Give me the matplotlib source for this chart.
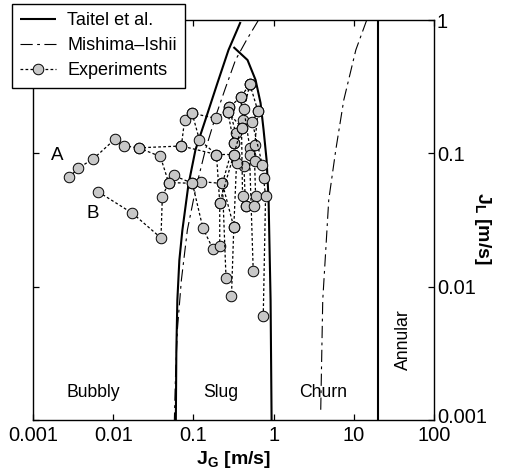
import matplotlib
matplotlib.use("Agg")
import matplotlib.pyplot as plt
from matplotlib.lines import Line2D
from matplotlib.transforms import ScaledTranslation

plt.rcParams['font.family'] = ['Liberation Sans', 'DejaVu Sans']
plt.rcParams['mathtext.fontset'] = 'custom'
plt.rcParams['mathtext.rm'] = 'Liberation Sans'
plt.rcParams['mathtext.bf'] = 'Liberation Sans:bold'

# ---------------- Regime boundaries ----------------
# Taitel et al. bubbly-slug
taitel_bs_jg = [0.387, 0.274, 0.1995, 0.141, 0.106, 0.0866, 0.0729, 0.0668, 0.0631, 0.0613, 0.0604]
taitel_bs_jl = [0.966, 0.596, 0.337, 0.178, 0.106, 0.0579, 0.0266, 0.0158, 0.00794, 0.00335, 0.001]
# Taitel et al. slug-churn
taitel_sc_jg = [0.316, 0.473, 0.596, 0.688, 0.75, 0.818, 0.866, 0.917, 0.944]
taitel_sc_jl = [0.627, 0.501, 0.355, 0.238, 0.150, 0.0891, 0.0447, 0.00794, 0.001]
# Taitel et al. churn-annular
taitel_ca_jg = [20.2, 20.2]
taitel_ca_jl = [0.001, 1.0]
# Mishima-Ishii bubbly-slug
mi_bs_jg = [0.649, 0.46, 0.335, 0.251, 0.188, 0.141, 0.106, 0.0841, 0.0708, 0.0631, 0.0596, 0.0579]
mi_bs_jl = [1.0, 0.708, 0.501, 0.309, 0.187, 0.106, 0.0531, 0.0266, 0.0112, 0.00473, 0.002, 0.001]
# Mishima-Ishii churn-annular
mi_ca_jg = [14.5, 10.6, 7.5, 5.96, 4.87, 4.47, 4.10, 3.87]
mi_ca_jl = [1.0, 0.596, 0.251, 0.106, 0.0447, 0.0188, 0.00794, 0.00119]

# ---------------- Experimental trajectories ----------------
exp_A_jg = [0.00284, 0.00365, 0.00568, 0.0104, 0.0135, 0.0207, 0.0708, 0.194, 0.319, 0.426, 0.447]
exp_A_jl = [0.0661, 0.0773, 0.0912, 0.127, 0.114, 0.110, 0.1135, 0.098, 0.098, 0.0804, 0.0403]
exp_B_jg = [0.00655, 0.0174, 0.0394, 0.041, 0.0491, 0.0568, 0.0972, 0.126, 0.230, 0.319]
exp_B_jl = [0.0513, 0.0355, 0.0232, 0.0473, 0.0604, 0.0682, 0.0596, 0.0613, 0.0594, 0.028]
exp_3_jg = [0.0207, 0.0387, 0.0491, 0.0972, 0.1315, 0.176]
exp_3_jl = [0.110, 0.0947, 0.0604, 0.0596, 0.0274, 0.0191]
exp_4_jg = [0.0708, 0.0778, 0.0964, 0.194, 0.278, 0.387, 0.506]
exp_4_jl = [0.1135, 0.179, 0.200, 0.1825, 0.221, 0.263, 0.330]
exp_5_jg = [0.0964, 0.119, 0.194, 0.213, 0.213]
exp_5_jl = [0.200, 0.126, 0.098, 0.0426, 0.0202]
exp_6_jg = [0.278, 0.337, 0.319, 0.230, 0.255]
exp_6_jl = [0.221, 0.142, 0.1196, 0.0594, 0.0117]
exp_7_jg = [0.2685, 0.319, 0.345, 0.319, 0.2985]
exp_7_jl = [0.205, 0.1196, 0.0842, 0.028, 0.00855]
exp_8_jg = [0.387, 0.418, 0.398, 0.41, 0.447]
exp_8_jl = [0.263, 0.178, 0.156, 0.0479, 0.0403]
exp_9_jg = [0.506, 0.426, 0.506, 0.501, 0.557]
exp_9_jl = [0.330, 0.214, 0.1096, 0.0972, 0.0132]
exp_10_jg = [0.506, 0.637, 0.583, 0.579, 0.596, 0.570]
exp_10_jl = [0.330, 0.208, 0.116, 0.088, 0.0479, 0.0403]
exp_11_jg = [0.637, 0.542, 0.723, 0.75, 0.794, 0.743]
exp_11_jl = [0.208, 0.171, 0.0822, 0.065, 0.0479, 0.00603]
exp_12_jg = [0.2685, 0.398, 0.319, 0.213]
exp_12_jl = [0.205, 0.156, 0.098, 0.0426]

trajectories = [
    (exp_A_jg, exp_A_jl), (exp_B_jg, exp_B_jl), (exp_3_jg, exp_3_jl),
    (exp_4_jg, exp_4_jl), (exp_5_jg, exp_5_jl), (exp_6_jg, exp_6_jl),
    (exp_7_jg, exp_7_jl), (exp_8_jg, exp_8_jl), (exp_9_jg, exp_9_jl),
    (exp_10_jg, exp_10_jl), (exp_11_jg, exp_11_jl), (exp_12_jg, exp_12_jl),
]

x_ticks = [0.001, 0.01, 0.1, 1, 10, 100]
x_tick_labels = ['0.001', '0.01', '0.1', '1', '10', '100']
y_ticks = [0.001, 0.01, 0.1, 1]
y_tick_labels = ['0.001', '0.01', '0.1', '1']

regime_labels = ['Bubbly', 'Slug', 'Churn']
regime_label_jg = [0.0056, 0.2175, 4.2]
regime_label_jl = [0.0016, 0.0016, 0.0016]

fig = plt.figure(figsize=(5.05, 4.76), dpi=100)
ax = fig.add_axes([33/505, 1-420/476, 401/505, 400/476])
ax.set_xscale('log')
ax.set_yscale('log')
ax.set_xlim(0.001, 100)
ax.set_ylim(0.001, 1)

solid_kw = dict(color='black', lw=1.5, solid_capstyle='butt')
mi_kw = dict(color='black', lw=0.8, dashes=[11, 4, 2.5, 4])

ax.plot(taitel_bs_jg, taitel_bs_jl, **solid_kw)
ax.plot(taitel_sc_jg, taitel_sc_jl, **solid_kw)
ax.plot(taitel_ca_jg, taitel_ca_jl, **solid_kw)
ax.plot(mi_bs_jg, mi_bs_jl, **mi_kw)
ax.plot(mi_ca_jg, mi_ca_jl, **mi_kw)

exp_kw = dict(color='black', lw=0.9, dashes=[2.2, 1.8], marker='o', markersize=7.6,
              markerfacecolor='#c8c8c8', markeredgecolor='black', markeredgewidth=0.7)
for jg, jl in trajectories:
    ax.plot(jg, jl, **exp_kw)

for lab, xg, yl in zip(regime_labels, regime_label_jg, regime_label_jl):
    ax.text(xg, yl, lab, ha='center', va='center', fontsize=12.7)
ax.text(42, 0.004, 'Annular', rotation=90, ha='center', va='center', fontsize=12.7)
ax.text(0.002, 0.0955, 'A', ha='center', va='center', fontsize=13.5)
ax.text(0.00562, 0.0351, 'B', ha='center', va='center', fontsize=13.5)

ax.set_xticks(x_ticks)
ax.set_xticklabels(x_tick_labels)
ax.set_yticks(y_ticks)
ax.set_yticklabels(y_tick_labels)
ax.minorticks_off()
ax.tick_params(axis='both', which='major', direction='in', length=4, width=0.9,
               labelsize=14.4, top=True, right=True, left=True, bottom=True,
               labelleft=False, labelright=True, pad=2)
ax.tick_params(axis='x', pad=4.5)
for s in ax.spines.values():
    s.set_linewidth(1.0)

# nudge the lowest right-hand tick label up slightly, as in the reference
lowest = ax.yaxis.get_major_ticks()[0].label2
lowest.set_transform(lowest.get_transform() + ScaledTranslation(0, 4/100, fig.dpi_scale_trans))

ax.set_xlabel(r'$\mathbf{J_G}$ [m/s]', fontsize=14, fontweight='bold', labelpad=3)
fig.text(482/505, 1-228/476, r'$\mathbf{J_L}$ [m/s]', fontsize=14, fontweight='bold',
         rotation=270, ha='center', va='center')

handles = [
    Line2D([], [], **solid_kw),
    Line2D([], [], color='black', lw=0.8, dashes=[11, 4, 2.5, 4]),
    Line2D([], [], **exp_kw),
]
leg = fig.legend(handles, ['Taitel et al.', 'Mishima–Ishii', 'Experiments'],
                 loc='upper left', bbox_to_anchor=(12/505, 1-4/476), bbox_transform=fig.transFigure,
                 fontsize=13, frameon=True, fancybox=False, framealpha=1, edgecolor='black',
                 handlelength=2.0, handletextpad=0.6, borderpad=0.45, labelspacing=0.45,
                 borderaxespad=0)
leg.get_frame().set_linewidth(1.0)

fig.savefig('out.png', dpi=100)
